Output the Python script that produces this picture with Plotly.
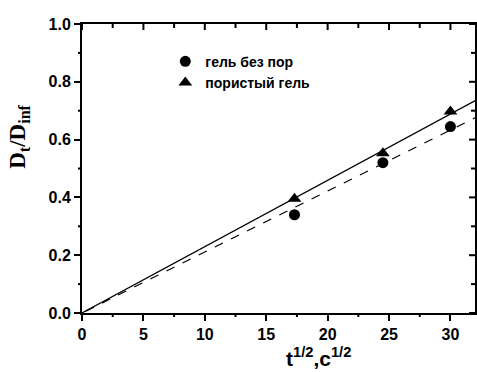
import numpy as np
import plotly.graph_objects as go

x_vals = [17.3, 24.5, 30.0]
gel_no_pores = [0.34, 0.52, 0.645]
porous_gel = [0.395, 0.553, 0.697]
name_no_pores = "гель без пор"
name_porous = "пористый гель"
x_ticks = [0, 5, 10, 15, 20, 25, 30]
x_minor = [2.5, 7.5, 12.5, 17.5, 22.5, 27.5]
y_ticks = [0.0, 0.2, 0.4, 0.6, 0.8, 1.0]
y_minor = [0.1, 0.3, 0.5, 0.7, 0.9]
x_range = [0, 32]
y_range = [0, 1.0]

W, H = 477, 372
ML, MR, MT, MB = 82, 0, 24, 59
plot_w, plot_h = W - ML - MR, H - MT - MB

x_arr = np.array(x_vals)
def slope(y):
    y = np.array(y)
    return float((x_arr * y).sum() / (x_arr ** 2).sum())

k1 = slope(gel_no_pores)
k2 = slope(porous_gel)
xl = np.array([-1.0, 33.0])

fig = go.Figure()
fig.add_trace(go.Scatter(x=xl, y=k2 * xl, mode="lines", line=dict(color="black", width=1.2), showlegend=False))
fig.add_trace(go.Scatter(x=xl, y=k1 * xl, mode="lines", line=dict(color="black", width=1.2, dash="dash"), showlegend=False))
fig.add_trace(go.Scatter(x=x_vals, y=gel_no_pores, mode="markers", name="<b>" + name_no_pores + "</b>",
                         marker=dict(symbol="circle", size=11, color="black")))
fig.add_trace(go.Scatter(x=x_vals, y=porous_gel, mode="markers", name="<b>" + name_porous + "</b>",
                         marker=dict(symbol="triangle-up", size=12, color="black")))

tickfont = dict(family="Liberation Sans", size=16, color="black")
fig.update_layout(
    width=W, height=H,
    margin=dict(l=ML, r=MR, t=MT, b=MB),
    paper_bgcolor="white", plot_bgcolor="white",
    font=dict(family="Liberation Sans", color="black"),
    xaxis=dict(range=x_range, tickmode="array", tickvals=x_ticks, ticktext=["<b>%d</b>" % v for v in x_ticks],
               ticks="outside", ticklen=6, tickwidth=2, tickcolor="black",
               showline=True, linecolor="black", linewidth=2, mirror=True,
               showgrid=False, zeroline=False, tickfont=tickfont),
    yaxis=dict(range=y_range, tickmode="array", tickvals=y_ticks, ticktext=["<b>%.1f</b>" % v for v in y_ticks],
               ticks="outside", ticklen=6, tickwidth=2, tickcolor="black",
               showline=True, linecolor="black", linewidth=2, mirror=True,
               showgrid=False, zeroline=False, tickfont=tickfont),
    legend=dict(x=0.212, y=0.925, xanchor="left", yanchor="top", bgcolor="rgba(0,0,0,0)",
                font=dict(family="Liberation Sans", size=14, color="black")),
    showlegend=True,
)

# minor ticks (outside, bottom/left) and inward ticks on the top/right frame edges
shapes = []
tick_line = dict(color="black", width=2)
for v in x_minor:
    shapes.append(dict(type="line", xref="x", yref="paper", x0=v, x1=v, y0=0, y1=-4 / plot_h, line=tick_line))
for v in y_minor:
    shapes.append(dict(type="line", xref="paper", yref="y", y0=v, y1=v, x0=0, x1=-4 / plot_w, line=tick_line))
for v in x_ticks + x_minor:
    ln = (6 if v in x_ticks else 4) / plot_h
    shapes.append(dict(type="line", xref="x", yref="paper", x0=v, x1=v, y0=1, y1=1 - ln, line=tick_line))
for v in y_ticks + y_minor:
    ln = (6 if v in y_ticks else 4) / plot_w
    shapes.append(dict(type="line", xref="paper", yref="y", y0=v, y1=v, x0=1, x1=1 - ln, line=tick_line))
fig.update_layout(shapes=shapes)

fig.add_annotation(text="<b>D<sub>t</sub>/D<sub>inf</sub></b>", xref="paper", yref="paper", x=-0.16, y=0.61,
                   textangle=-90, showarrow=False, xanchor="center", yanchor="middle",
                   font=dict(family="Liberation Serif", size=23, color="black"))
fig.add_annotation(text="<b>t<sup>1/2</sup>,c<sup>1/2</sup></b>", xref="paper", yref="paper", x=0.602, y=-0.1,
                   showarrow=False, xanchor="center", yanchor="top",
                   font=dict(family="Liberation Sans", size=21, color="black"))

fig.write_html("out.html")
